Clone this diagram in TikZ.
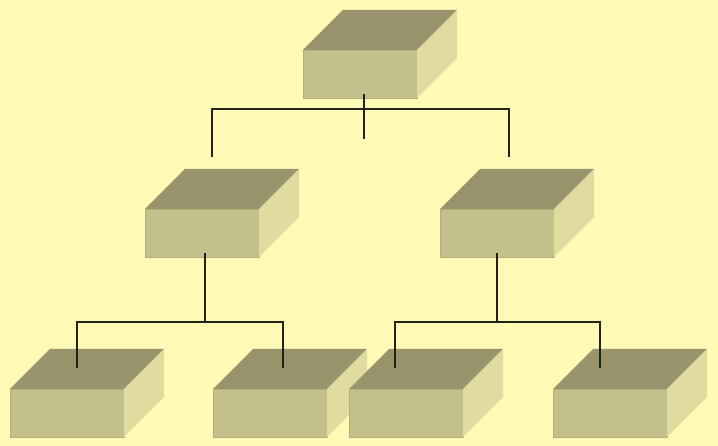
\documentclass[tikz,border=0pt]{standalone}
\usetikzlibrary{calc}
\definecolor{bg}{HTML}{FFFAB6}
\definecolor{frontc}{HTML}{C4C08B}
\definecolor{frontedge}{HTML}{B4B07C}
\definecolor{topc}{HTML}{99946C}
\definecolor{sidec}{HTML}{E0DCA0}
\definecolor{linec}{HTML}{222218}
\newcommand\mycube[3]{%
  \node[frontbox, anchor=north west] (#1) at (#2,#3) {};
  \fill[topc] (#1.north west) -- ++(40pt,40pt) -- ++(114pt,0pt) -- (#1.north east) -- cycle;
  \fill[sidec] (#1.north east) -- ++(40pt,40pt) -- ++(0pt,-48pt) -- (#1.south east) -- cycle;
}
\begin{document}
\begin{tikzpicture}[x=1pt,y=-1pt,
  frontbox/.style={fill=frontc, draw=frontedge, line width=0.8pt, minimum width=114pt, minimum height=48pt, inner sep=0pt, outer sep=0pt},
  conn/.style={draw=linec, line width=1.8pt}]
\fill[bg] (0,0) rectangle (718,446);
\useasboundingbox (0,0) rectangle (718,446);
\mycube{top}{303}{50}
\mycube{ml}{145}{209}
\mycube{mr}{440}{209}
\mycube{ba}{10}{389}
\mycube{bb}{213}{389}
\mycube{bc}{349}{389}
\mycube{bd}{553}{389}
% junction coordinates
\coordinate (tj1) at (212,157);
\coordinate (tj2) at (509,157);
\coordinate (th1) at (212,109);
\coordinate (th2) at (509,109);
\coordinate (mlj) at (205,322);
\coordinate (mrj) at (497,322);
\coordinate (la) at (77,368);
\coordinate (lah) at (77,322);
\coordinate (lb) at (283,368);
\coordinate (lbh) at (283,322);
\coordinate (rc) at (395,368);
\coordinate (rch) at (395,322);
\coordinate (rd) at (600,368);
\coordinate (rdh) at (600,322);
% top connectors
\draw[conn] ([xshift=4pt,yshift=4pt]top.south) -- ([xshift=4pt,yshift=-41pt]top.south);
\draw[conn] (tj1) -- (th1) -- (th2) -- (tj2);
% middle-left
\draw[conn] ([xshift=3pt,yshift=4pt]ml.south) -- (mlj);
\draw[conn] (la) -- (lah) -- (lbh) -- (lb);
% middle-right
\draw[conn] ([xshift=0pt,yshift=4pt]mr.south) -- (mrj);
\draw[conn] (rc) -- (rch) -- (rdh) -- (rd);
\end{tikzpicture}
\end{document}
